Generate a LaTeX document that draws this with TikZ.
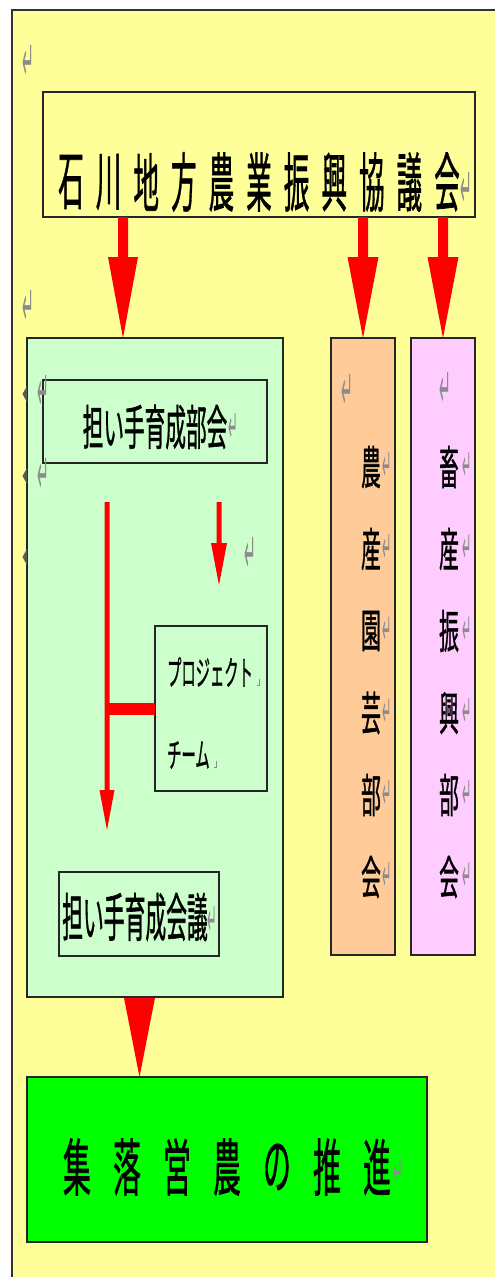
\documentclass[tikz,border=0pt]{standalone}
\usepackage{fontspec}
\usepackage{graphicx}
\setmainfont{Noto Sans CJK JP}
\newfontfamily\jpf{Noto Sans CJK JP}[FakeBold=1.2]
\newfontfamily\dvfont{DejaVu Sans}
\usetikzlibrary{calc}
\definecolor{bgyellow}{HTML}{FFFF99}
\definecolor{lgreen}{HTML}{CCFFCC}
\definecolor{peach}{HTML}{FFCC99}
\definecolor{lpink}{HTML}{FFCCFF}
\definecolor{vgreen}{HTML}{00FF00}
\definecolor{markgray}{HTML}{8C8C8C}
\definecolor{arrred}{HTML}{FF0000}
\newcommand\cnd[3]{{\jpf\fontsize{#1}{#1}\selectfont\scalebox{#2}[1]{#3}}}
\newcommand\retm[1]{{\dvfont\fontsize{#1}{#1}\selectfont\scalebox{0.25}[1]{↵}}}
% start, end, half shaft, half head, head length
\newcommand\fatarrow[5]{\fill[arrred] ($(#1)+(-#3,0)$) -- ($(#1)+(#3,0)$) -- ($(#2)+(#3,-#5)$) -- ($(#2)+(#4,-#5)$) -- (#2) -- ($(#2)+(-#4,-#5)$) -- ($(#2)+(-#3,-#5)$) -- cycle;}
\begin{document}
\begin{tikzpicture}[x=1pt,y=-1pt,
  box/.style={draw=black!85, line width=1.5pt, inner sep=0pt, outer sep=0pt, anchor=north west},
  jt/.style={inner sep=0pt, text=black},
  rm/.style={inner sep=0pt, text=markgray}]
\useasboundingbox (0,0) rectangle (495,1277);
\fill[white] (0,0) rectangle (495,1277);
% outer sheet
\fill[bgyellow] (12,10) rectangle (495,1277);
\draw[line width=2pt, black!80] (12,1277) -- (12,10) -- (495,10);

% boxes
\node[box, minimum width=432pt, minimum height=125pt] (top) at (43,92) {};
\node[box, fill=lgreen, minimum width=256pt, minimum height=659pt] (green) at (27,338) {};
\node[box, fill=peach, minimum width=64pt, minimum height=617pt] (orange) at (331,338) {};
\node[box, fill=lpink, minimum width=64pt, minimum height=617pt] (pink) at (411,338) {};
\node[box, fill=lgreen, minimum width=224pt, minimum height=83pt] (bukai) at (43,380) {};
\node[box, fill=lgreen, minimum width=112pt, minimum height=165pt] (proj) at (155,626) {};
\node[box, fill=lgreen, minimum width=160pt, minimum height=84pt] (kaigi) at (59,872) {};
\node[box, fill=vgreen, minimum width=400pt, minimum height=165pt] (final) at (27,1077) {};

% big arrows from the council
\coordinate (a1) at (123,0);
\coordinate (s1) at (top.south -| a1);
\coordinate (e1) at (green.north -| a1);
\fatarrow{s1}{e1}{5}{15}{81}
\coordinate (s2) at (top.south -| orange.north);
\coordinate (e2) at (orange.north);
\fatarrow{s2}{e2}{5}{15.5}{81}
\coordinate (s3) at (top.south -| pink.north);
\coordinate (e3) at (pink.north);
\fatarrow{s3}{e3}{5}{15.5}{81}

% arrow to final box
\coordinate (b1) at (139.5,0);
\coordinate (bs) at ($(green.south -| b1)+(0,0.75)$);
\coordinate (be) at (final.north -| b1);
\fill[arrred] ($(bs)+(-15.5,0)$) -- ($(bs)+(15.5,0)$) -- (be) -- cycle;

% inner arrows
\coordinate (l1) at (107,502);
\coordinate (l2) at (107,830);
\fatarrow{l1}{l2}{2.5}{7.5}{40}
\coordinate (k1) at (219,502);
\coordinate (k2) at (219,585);
\fatarrow{k1}{k2}{2.5}{8}{42}
\draw[arrred, line width=12pt] (proj.west) -- ($(proj.west -| l1)+(-2.5,0)$);

% texts
\foreach \c [count=\i from 0] in {石,川,地,方,農,業,振,興,協,議,会}
  \node[jt] (tc\i) at ({71+37.6*\i},182) {\cnd{64}{0.4}{\c}};
\foreach \c [count=\i from 0] in {農,産,園,芸,部,会}
  \node[jt] (oc\i) at (371,{467+82*\i}) {\cnd{46}{0.43}{\c}};
\foreach \c [count=\i from 0] in {畜,産,振,興,部,会}
  \node[jt] (pc\i) at (449,{467+82*\i}) {\cnd{46}{0.43}{\c}};
\foreach \c [count=\i from 0] in {集,落,営,農,の,推,進}
  \node[jt] (fc\i) at ({77+50*\i},1167) {\cnd{62}{0.45}{\c}};
\node[jt] (tbukai) at (155,427) {\cnd{48}{0.43}{担い手育成部会}};
\node[jt] (tkaigi) at (135,917) {\cnd{52}{0.40}{担い手育成会議}};
\node[jt, anchor=west] (tproj1) at (167,672) {\cnd{34}{0.42}{プロジェクト}};
\node[jt, anchor=west] (tproj2) at (167,755) {\cnd{34}{0.42}{チーム}};

% paragraph marks
\foreach \p in {(28,63),(28,308),(466,190),(43,393),(43,476),(250,555),(347,392),(445,390)}
  \node[rm] at \p {\retm{56}};
\foreach \p in {(233,428),(212,921),(398,1173)}
  \node[rm] at \p {\retm{46}};
\foreach \i in {0,...,5} {
  \node[rm] at (387,{467+82*\i}) {\retm{44}};
  \node[rm] at (467,{467+82*\i}) {\retm{44}};
}
\foreach \yy in {394,476,557}
  \fill[black!65] (27,\yy-8) -- (27,\yy+8) -- (22.5,\yy) -- cycle;
\draw[markgray, line width=0.6pt] (259.5,679) -- (259.5,685) -- (256.5,685);
\draw[markgray, line width=0.6pt] (216.5,761) -- (216.5,767) -- (213.5,767);
\end{tikzpicture}
\end{document}
